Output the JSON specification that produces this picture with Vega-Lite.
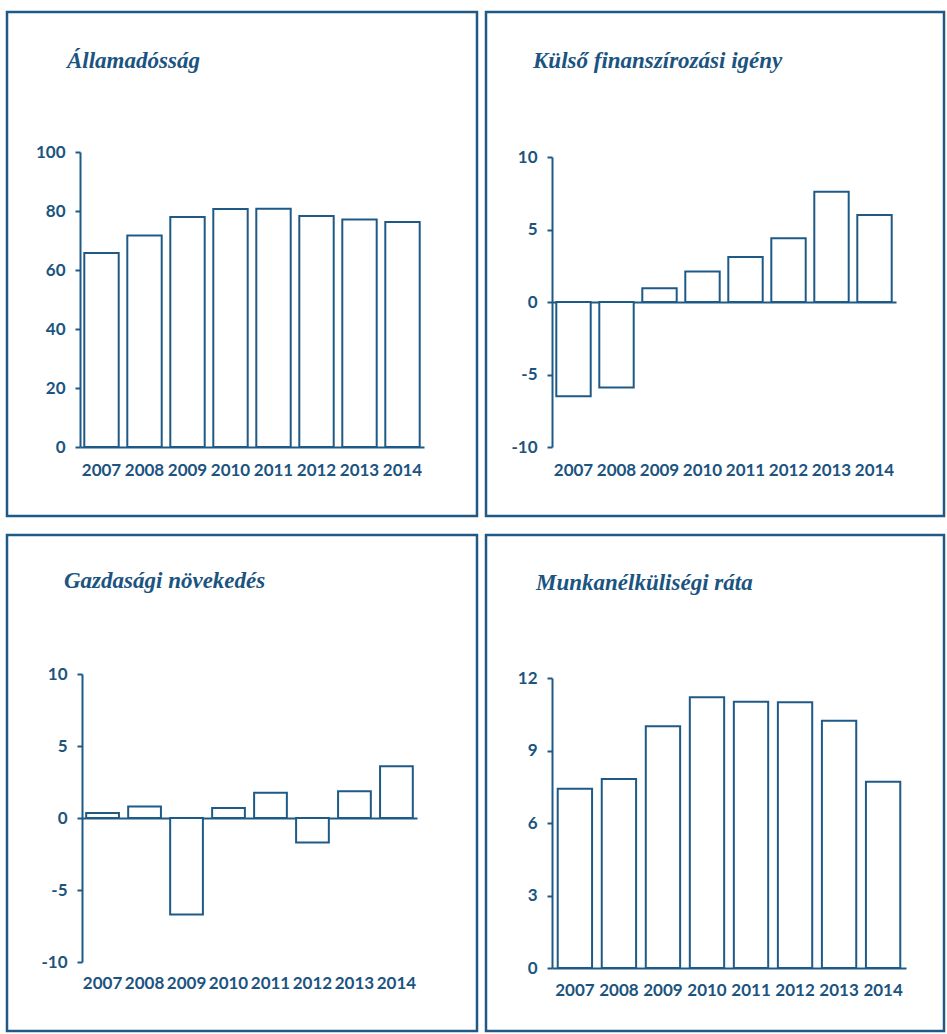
{
  "$schema": "https://vega.github.io/schema/vega-lite/v6.json",
  "padding": {"left": 5, "top": 10, "right": 0, "bottom": 0},
  "background": "white",
  "datasets": {
    "debt": [
      {"year": "2007", "value": 65.8}, {"year": "2008", "value": 71.7}, {"year": "2009", "value": 78.0}, {"year": "2010", "value": 80.7},
      {"year": "2011", "value": 80.8}, {"year": "2012", "value": 78.3}, {"year": "2013", "value": 77.1}, {"year": "2014", "value": 76.3}
    ],
    "ext": [
      {"year": "2007", "value": -6.5}, {"year": "2008", "value": -5.9}, {"year": "2009", "value": 0.95}, {"year": "2010", "value": 2.1},
      {"year": "2011", "value": 3.1}, {"year": "2012", "value": 4.4}, {"year": "2013", "value": 7.6}, {"year": "2014", "value": 6.0}
    ],
    "growth": [
      {"year": "2007", "value": 0.35}, {"year": "2008", "value": 0.8}, {"year": "2009", "value": -6.7}, {"year": "2010", "value": 0.7},
      {"year": "2011", "value": 1.76}, {"year": "2012", "value": -1.7}, {"year": "2013", "value": 1.85}, {"year": "2014", "value": 3.6}
    ],
    "unemp": [
      {"year": "2007", "value": 7.42}, {"year": "2008", "value": 7.82}, {"year": "2009", "value": 10.0}, {"year": "2010", "value": 11.2},
      {"year": "2011", "value": 11.02}, {"year": "2012", "value": 11.0}, {"year": "2013", "value": 10.23}, {"year": "2014", "value": 7.71}
    ]
  },
  "config": {
    "view": {"stroke": "#1f5a87", "strokeWidth": 2.5},
    "axis": {
      "grid": false, "title": null,
      "domainColor": "#1f5a87", "domainWidth": 2,
      "tickColor": "#1f5a87", "tickWidth": 2, "tickSize": 5,
      "labelFont": "Lato", "labelFontWeight": "bold", "labelFontSize": 17, "labelColor": "#1b5480"
    },
    "axisX": {"ticks": false, "tickSize": 0, "labelAngle": 0, "labelBaseline": "top"},
    "axisY": {"labelPadding": 10, "labelExpr": "'' + datum.value"},
    "bar": {"fill": "white", "stroke": "#1f5a87", "strokeWidth": 2},
    "title": {"anchor": "start", "frame": "group", "baseline": "alphabetic", "font": "Liberation Serif", "fontStyle": "italic", "fontWeight": "bold", "fontSize": 23, "color": "#1b5480"}
  },
  "spacing": 15,
  "vconcat": [
    {
      "spacing": 5,
      "hconcat": [
        {
          "width": 470, "height": 504,
          "data": {"name": "debt"},
          "title": {"text": "Államadósság", "dx": 60, "offset": -61},
          "mark": "bar",
          "encoding": {
            "x": {"field": "year", "type": "ordinal", "scale": {"range": [73, 417], "paddingInner": 0.2, "paddingOuter": 0.1},
                  "axis": {"offset": -69, "labelPadding": 15}},
            "y": {"field": "value", "type": "quantitative", "scale": {"domain": [0, 100], "range": [435, 140], "nice": false},
                  "axis": {"values": [0, 20, 40, 60, 80, 100], "offset": -73}}
          }
        },
        {
          "width": 458, "height": 504,
          "data": {"name": "ext"},
          "title": {"text": "Külső finanszírozási igény", "dx": 47, "offset": -61},
          "mark": "bar",
          "encoding": {
            "x": {"field": "year", "type": "ordinal", "scale": {"range": [66, 410], "paddingInner": 0.2, "paddingOuter": 0.1},
                  "axis": {"offset": -214, "labelPadding": 160}},
            "y": {"field": "value", "type": "quantitative", "scale": {"domain": [-10, 10], "range": [435, 145], "nice": false},
                  "axis": {"values": [-10, -5, 0, 5, 10], "offset": -66}}
          }
        }
      ]
    },
    {
      "spacing": 5,
      "hconcat": [
        {
          "width": 470, "height": 496,
          "data": {"name": "growth"},
          "title": {"text": "Gazdasági növekedés", "dx": 57, "offset": -58},
          "mark": "bar",
          "encoding": {
            "x": {"field": "year", "type": "ordinal", "scale": {"range": [75, 410], "paddingInner": 0.22, "paddingOuter": 0.1},
                  "axis": {"offset": -213, "labelPadding": 157}},
            "y": {"field": "value", "type": "quantitative", "scale": {"domain": [-10, 10], "range": [427, 139], "nice": false},
                  "axis": {"values": [-10, -5, 0, 5, 10], "offset": -75}}
          }
        },
        {
          "width": 458, "height": 496,
          "data": {"name": "unemp"},
          "title": {"text": "Munkanélküliségi ráta", "dx": 50, "offset": -60},
          "mark": "bar",
          "encoding": {
            "x": {"field": "year", "type": "ordinal", "scale": {"range": [66, 420], "paddingInner": 0.22, "paddingOuter": 0.13},
                  "axis": {"offset": -63, "labelPadding": 14}},
            "y": {"field": "value", "type": "quantitative", "scale": {"domain": [0, 12], "range": [433, 143], "nice": false},
                  "axis": {"values": [0, 3, 6, 9, 12], "offset": -66}}
          }
        }
      ]
    }
  ]
}
